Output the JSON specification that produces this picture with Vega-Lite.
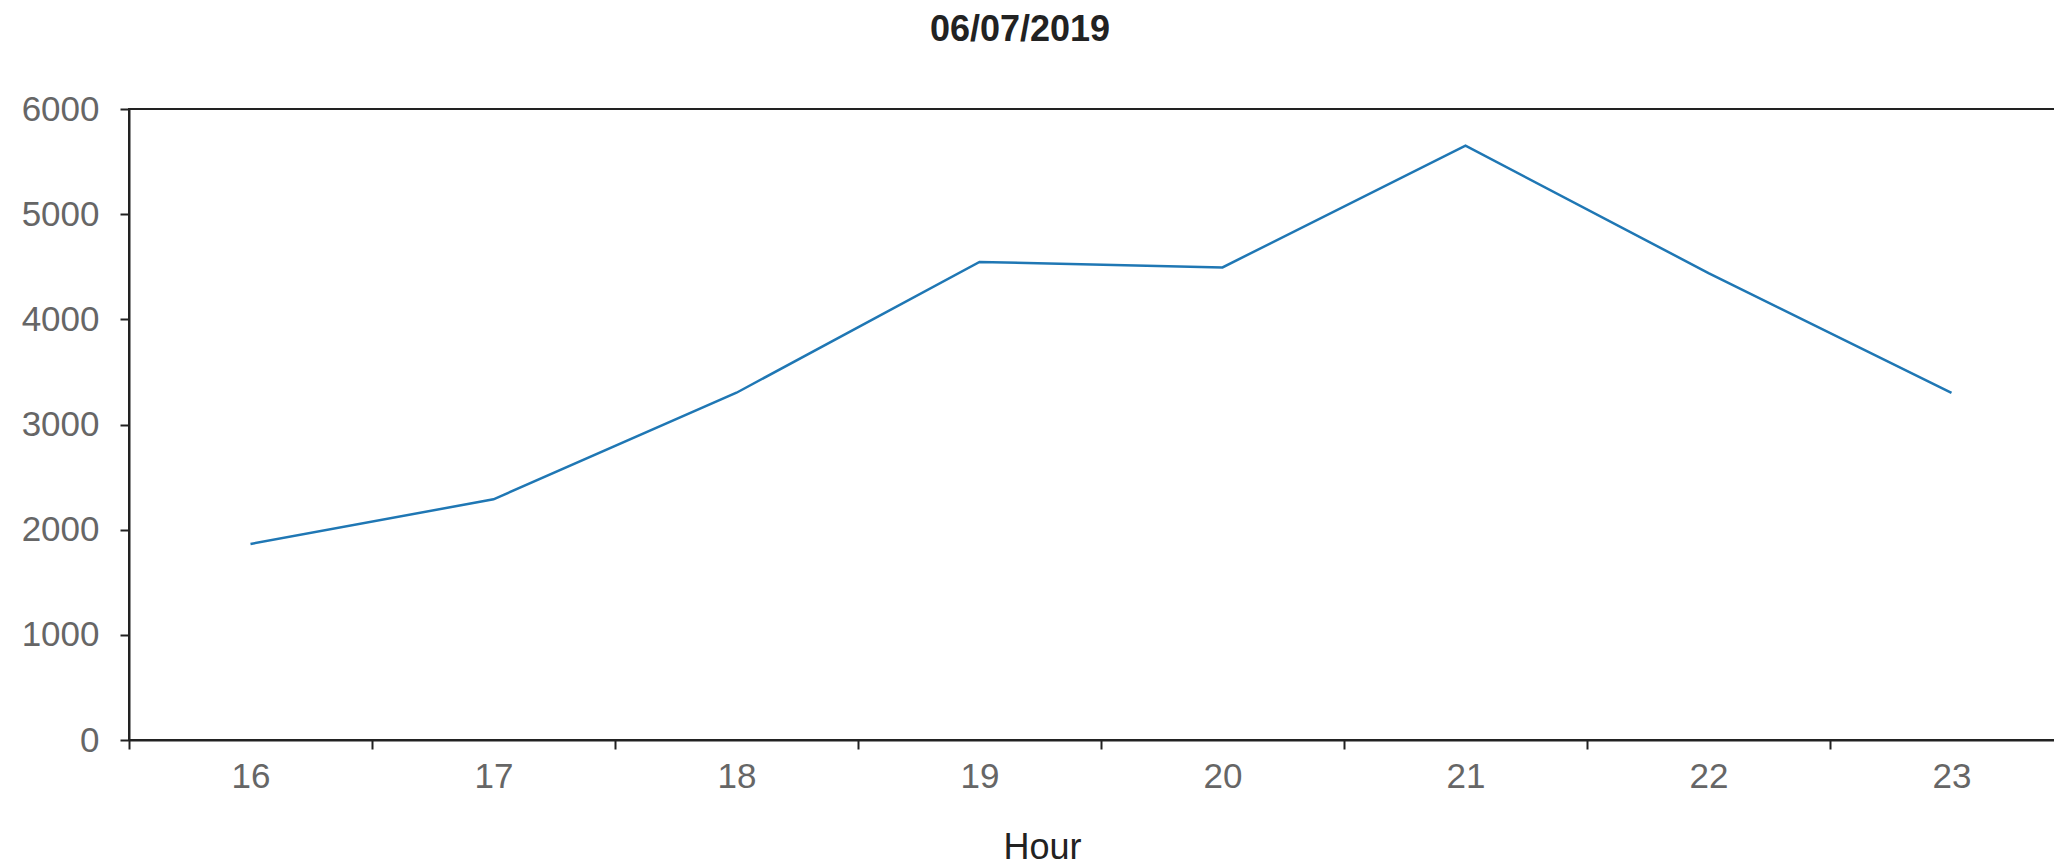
{
  "$schema": "https://vega.github.io/schema/vega-lite/v6.json",
  "autosize": {"type": "none"},
  "padding": {"left": 129, "top": 109, "right": 0, "bottom": 125},
  "width": 1944,
  "height": 631,
  "background": "white",
  "title": {
    "text": "06/07/2019",
    "font": "Liberation Sans",
    "fontSize": 36,
    "fontWeight": "bold",
    "color": "#222222",
    "anchor": "middle",
    "frame": "group",
    "baseline": "alphabetic",
    "dx": -81,
    "offset": 15
  },
  "data": {
    "values": [
      {"hour": "16", "value": 1864},
      {"hour": "17", "value": 2289},
      {"hour": "18", "value": 3302},
      {"hour": "19", "value": 4545},
      {"hour": "20", "value": 4494},
      {"hour": "21", "value": 5651},
      {"hour": "22", "value": 4440},
      {"hour": "23", "value": 3300}
    ]
  },
  "mark": {"type": "line", "color": "#1f77b4", "strokeWidth": 2.5},
  "encoding": {
    "x": {
      "field": "hour",
      "type": "ordinal",
      "bandPosition": 0.5,
      "scale": {"type": "band", "paddingInner": 0, "paddingOuter": 0},
      "axis": {
        "title": "Hour",
        "labelAngle": 0,
        "tickBand": "extent",
        "labelFont": "Liberation Sans",
        "labelFontSize": 35,
        "labelColor": "#666666",
        "labelPadding": 10,
        "domainColor": "#222222",
        "domainWidth": 2,
        "tickColor": "#222222",
        "tickWidth": 2,
        "tickSize": 9,
        "grid": false,
        "titleFont": "Liberation Sans",
        "titleFontSize": 36,
        "titleFontWeight": "normal",
        "titleColor": "#222222",
        "titleBaseline": "alphabetic",
        "titleX": 913,
        "titleY": 118
      }
    },
    "y": {
      "field": "value",
      "type": "quantitative",
      "scale": {"domain": [0, 6000], "nice": false},
      "axis": {
        "title": null,
        "format": "d",
        "values": [0, 1000, 2000, 3000, 4000, 5000, 6000],
        "grid": false,
        "labelFont": "Liberation Sans",
        "labelFontSize": 35,
        "labelColor": "#666666",
        "labelPadding": 21,
        "domainColor": "#222222",
        "domainWidth": 2,
        "tickColor": "#222222",
        "tickWidth": 2,
        "tickSize": 9
      }
    }
  },
  "config": {
    "view": {"stroke": "#222222", "strokeWidth": 2}
  }
}
